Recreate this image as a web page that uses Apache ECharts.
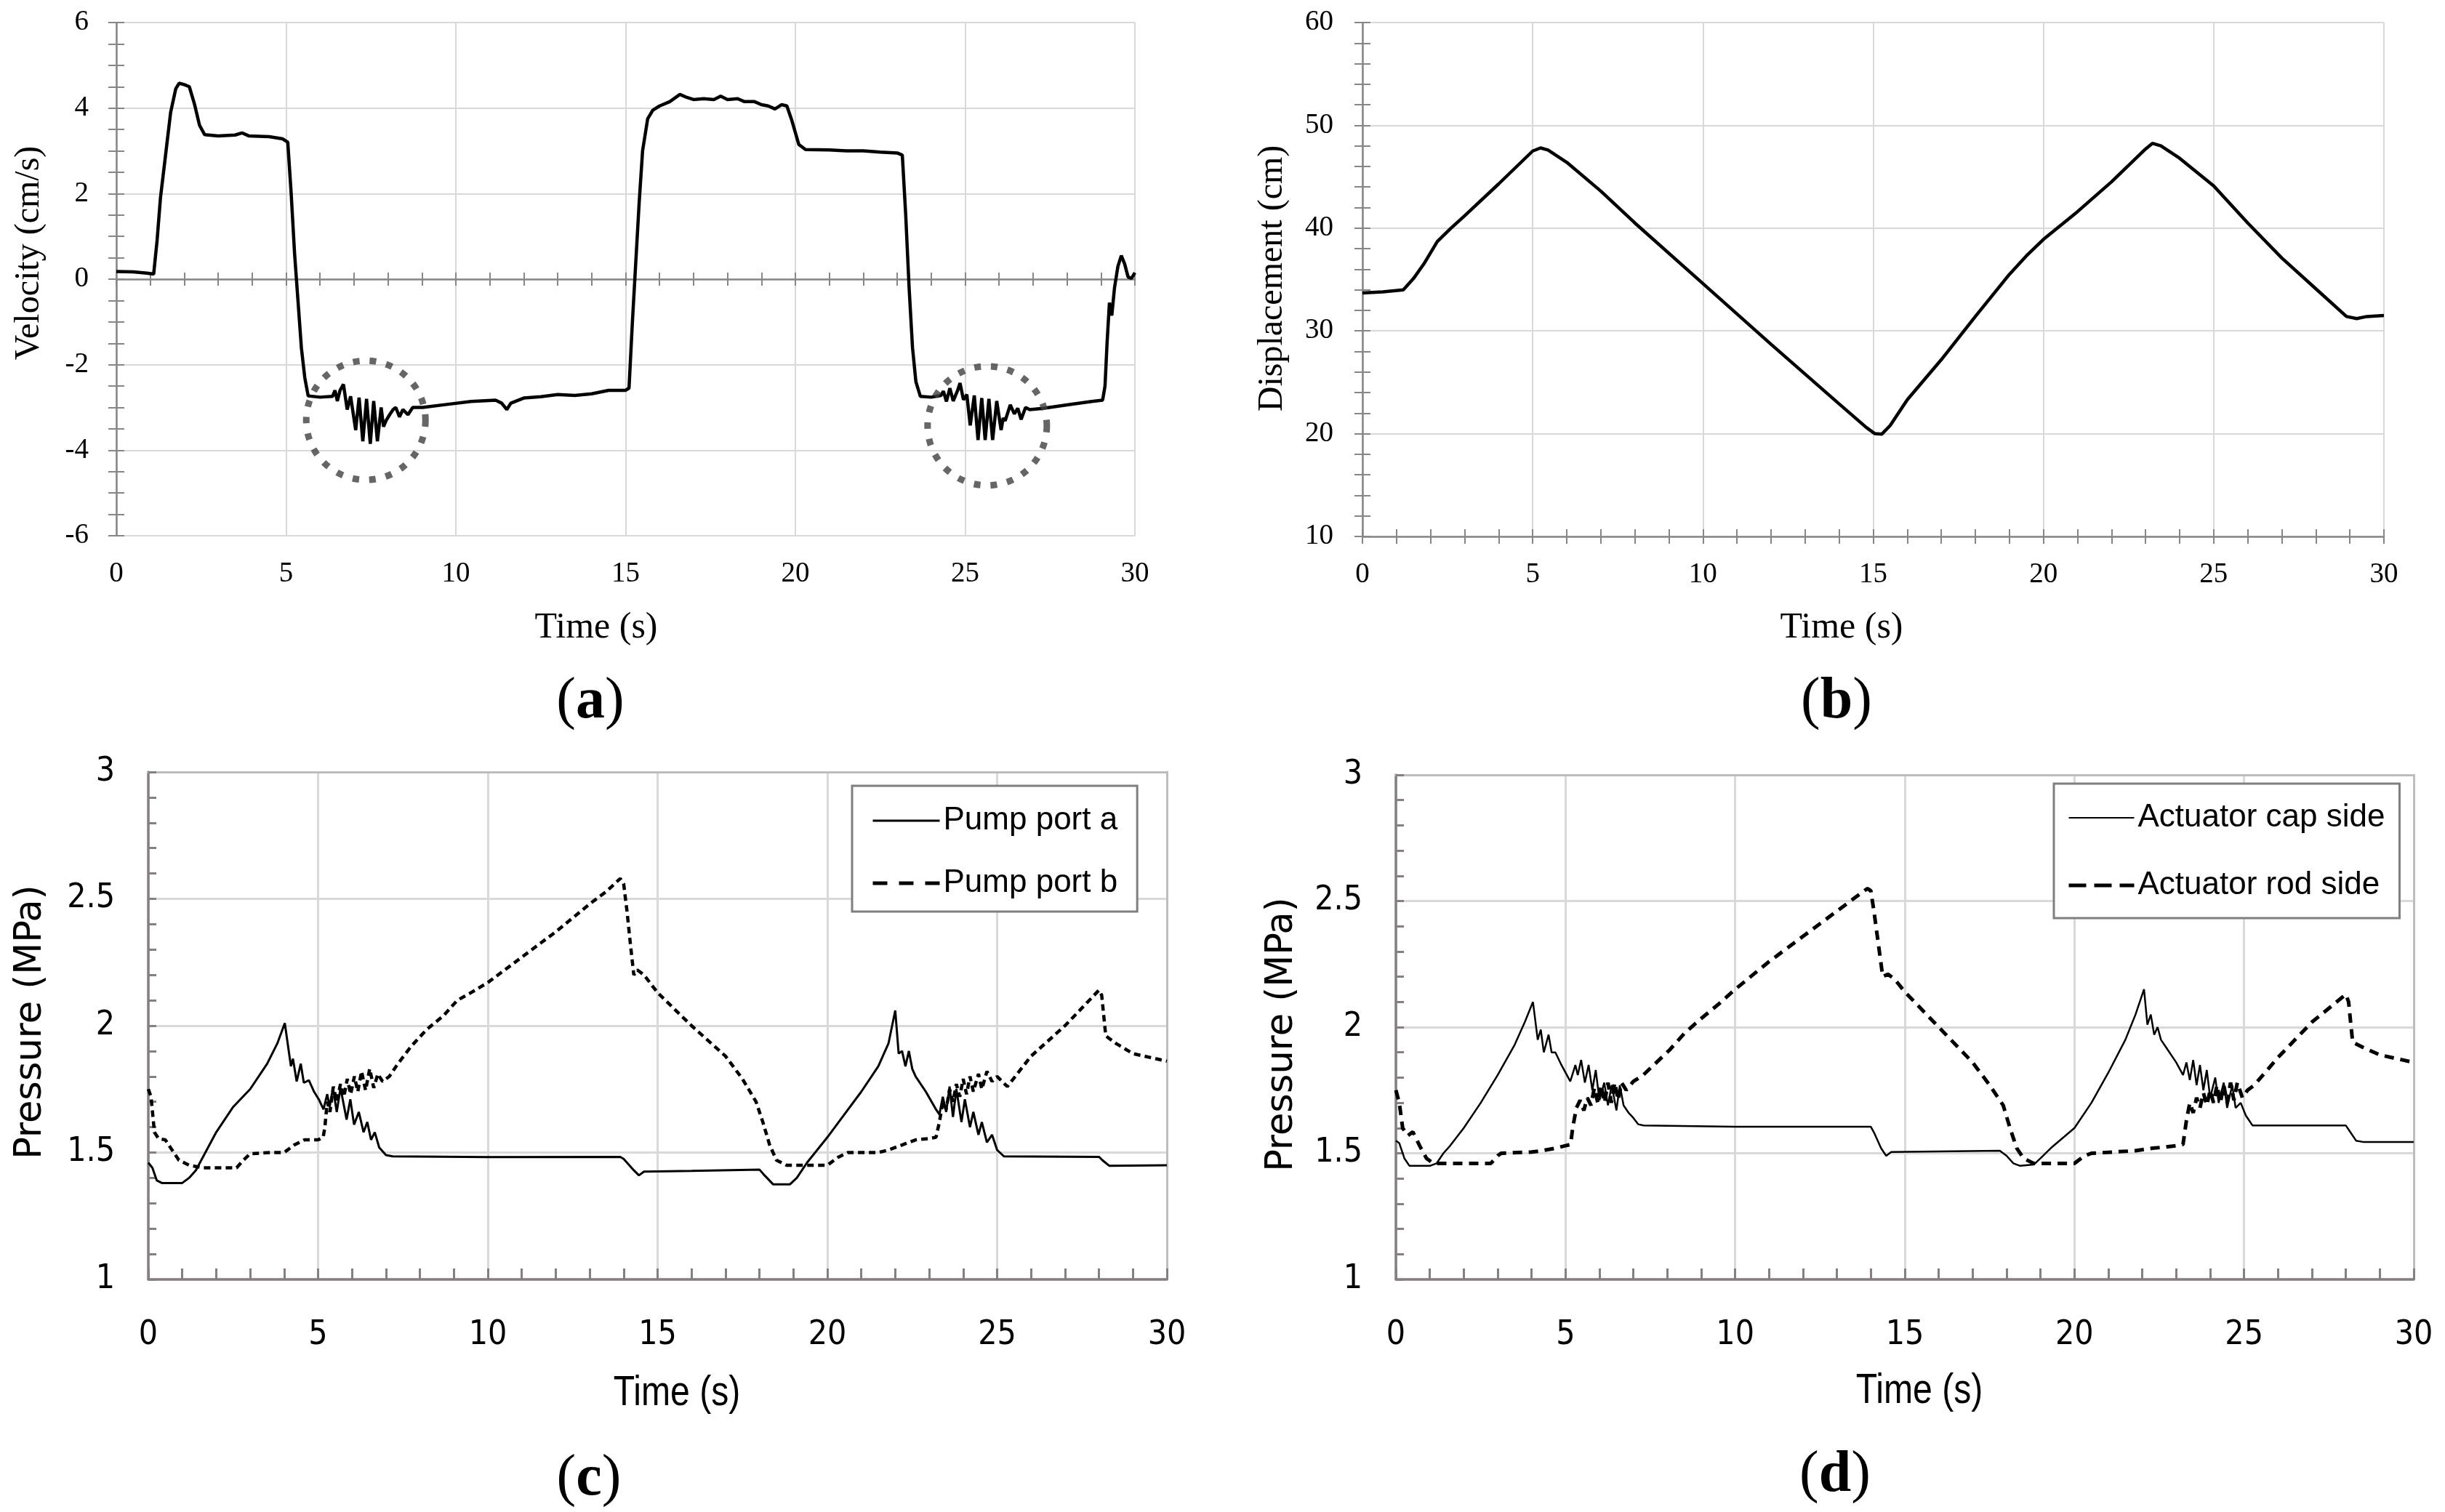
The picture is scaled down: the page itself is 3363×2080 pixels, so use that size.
<!DOCTYPE html>
<html>
<head>
<meta charset="utf-8">
<title>Velocity, displacement and pressure</title>
<script src="https://cdn.jsdelivr.net/npm/echarts@6.0.0/dist/echarts.min.js"></script>
<style>
  html, body { margin: 0; padding: 0; background: #fff; }
  #chart { width: 3363px; height: 2080px; }
</style>
</head>
<body>
<div id="chart"></div>
<script>
// (a) actuator velocity, cm/s
var velT = [0, 0.5, 0.9, 1.1, 1.2, 1.3, 1.45, 1.6, 1.75, 1.85,
  2.0, 2.15, 2.3, 2.45, 2.6, 3.0, 3.5, 3.7, 3.9, 4.5,
  4.9, 5.05, 5.15, 5.25, 5.35, 5.45, 5.55, 5.65, 6.0, 6.37,
  6.44, 6.51, 6.59, 6.69, 6.8, 6.9, 7.05, 7.15, 7.26, 7.37,
  7.48, 7.58, 7.69, 7.8, 7.87, 7.95, 8.05, 8.15, 8.23, 8.34,
  8.44, 8.59, 8.73, 9.02, 9.73, 10.45, 11.17, 11.35, 11.5, 11.62,
  12.0, 12.5, 13.0, 13.5, 14.0, 14.5, 15.0, 15.1, 15.2, 15.3,
  15.4, 15.5, 15.65, 15.8, 16.0, 16.3, 16.6, 16.8, 17.0, 17.3,
  17.6, 17.8, 18.0, 18.3, 18.5, 18.8, 19.0, 19.2, 19.4, 19.6,
  19.75, 19.9, 20.1, 20.3, 21.0, 21.5, 22.0, 22.5, 23.0, 23.15,
  23.25, 23.35, 23.45, 23.55, 23.68, 24.0, 24.29, 24.36, 24.45, 24.55,
  24.65, 24.78, 24.85, 24.95, 25.05, 25.15, 25.27, 25.38, 25.49, 25.59,
  25.7, 25.81, 25.93, 26.06, 26.12, 26.18, 26.33, 26.45, 26.55, 26.65,
  26.78, 26.9, 27.3, 28.0, 28.73, 29.05, 29.12, 29.18, 29.25, 29.32,
  29.4, 29.5, 29.6, 29.7, 29.8, 29.9, 30.0];
var velV = [0.18, 0.17, 0.14, 0.12, 0.9, 1.9, 2.9, 3.9, 4.45, 4.58,
  4.55, 4.5, 4.1, 3.6, 3.38, 3.35, 3.37, 3.42, 3.35, 3.33,
  3.28, 3.2, 2.0, 0.6, -0.5, -1.6, -2.3, -2.73, -2.76, -2.74,
  -2.6, -2.85, -2.6, -2.46, -3.05, -2.74, -3.53, -2.77, -3.79, -2.8,
  -3.85, -2.85, -3.79, -3.0, -3.45, -3.3, -3.17, -3.05, -3.0, -3.22,
  -3.05, -3.17, -3.0, -3.0, -2.93, -2.86, -2.83, -2.9, -3.05, -2.9,
  -2.78, -2.75, -2.7, -2.72, -2.68, -2.6, -2.6, -2.55, -1.0, 0.4,
  1.8, 3.0, 3.75, 3.95, 4.05, 4.15, 4.32, 4.25, 4.2, 4.22,
  4.2, 4.28, 4.2, 4.22, 4.15, 4.15, 4.08, 4.05, 3.98, 4.08,
  4.05, 3.7, 3.15, 3.03, 3.02, 3.0, 3.0, 2.97, 2.95, 2.9,
  1.5, -0.2, -1.6, -2.4, -2.74, -2.76, -2.72, -2.62, -2.86, -2.55,
  -2.85, -2.6, -2.43, -2.82, -2.7, -3.42, -2.72, -3.76, -2.78, -3.76,
  -2.8, -3.76, -2.85, -3.53, -3.25, -3.31, -2.94, -3.15, -3.02, -3.28,
  -3.0, -3.05, -3.02, -2.94, -2.86, -2.83, -2.5, -1.5, -0.55, -0.85,
  -0.2, 0.3, 0.55, 0.35, 0.05, 0.02, 0.15];

// dotted circles marking the oscillations in (a)
var circleT = [7.35, 25.65];
var circleV = [-3.3, -3.43];

// (b) actuator displacement, cm
var dispT = [0, 0.6, 1.2, 1.5, 1.8, 2.2, 2.6, 3.0, 4.0, 5.0,
  5.23, 5.45, 6.0, 7.0, 8.0, 10.0, 12.0, 14.0, 14.8, 15.05,
  15.25, 15.5, 16.0, 17.0, 18.0, 19.0, 19.5, 20.0, 21.0, 22.0,
  23.0, 23.2, 23.45, 24.0, 25.0, 26.0, 27.0, 28.0, 28.9, 29.2,
  29.5, 30.0];
var dispV = [33.7, 33.8, 34.0, 35.1, 36.5, 38.7, 40.0, 41.2, 44.3, 47.5,
  47.8, 47.6, 46.4, 43.6, 40.5, 34.6, 28.7, 22.9, 20.6, 20.0,
  19.95, 20.8, 23.3, 27.2, 31.4, 35.5, 37.3, 38.9, 41.6, 44.5,
  47.7, 48.25, 48.0, 46.8, 44.1, 40.5, 37.1, 34.1, 31.4, 31.2,
  31.4, 31.5];

// (c) pump port pressures, MPa
var portAT = [0, 0.12, 0.25, 0.4, 1.0, 1.2, 1.4, 2.0, 2.5, 3.0,
  3.5, 3.8, 4.02, 4.2, 4.26, 4.37, 4.49, 4.58, 4.73, 4.88,
  5.02, 5.16, 5.27, 5.34, 5.44, 5.55, 5.66, 5.84, 5.95, 6.06,
  6.2, 6.34, 6.45, 6.56, 6.67, 6.8, 7.0, 7.2, 10.0, 13.9,
  14.0, 14.3, 14.45, 14.6, 16.0, 18.0, 18.15, 18.4, 18.9, 19.1,
  19.4, 20.0, 20.5, 21.0, 21.5, 21.8, 22.0, 22.1, 22.2, 22.3,
  22.4, 22.5, 22.6, 22.9, 23.2, 23.3, 23.4, 23.5, 23.6, 23.7,
  23.8, 23.95, 24.05, 24.2, 24.3, 24.45, 24.55, 24.7, 24.85, 25.0,
  25.2, 28.0, 28.1, 28.3, 30.0];
var portAV = [1.46, 1.44, 1.39, 1.38, 1.38, 1.40, 1.43, 1.58, 1.68, 1.75,
  1.85, 1.93, 2.01, 1.84, 1.87, 1.78, 1.85, 1.775, 1.785, 1.74,
  1.71, 1.67, 1.73, 1.68, 1.755, 1.66, 1.755, 1.63, 1.71, 1.61,
  1.66, 1.58, 1.62, 1.55, 1.58, 1.52, 1.49, 1.485, 1.482, 1.483,
  1.475, 1.43, 1.41, 1.425, 1.428, 1.433, 1.41, 1.375, 1.375, 1.40,
  1.46, 1.56, 1.65, 1.74, 1.84, 1.93, 2.06, 1.89, 1.9, 1.84,
  1.9, 1.83, 1.8, 1.74, 1.67, 1.65, 1.72, 1.66, 1.76, 1.64,
  1.75, 1.62, 1.71, 1.6, 1.66, 1.57, 1.62, 1.54, 1.57, 1.51,
  1.485, 1.483, 1.47, 1.448, 1.45];
var portBT = [0, 0.08, 0.18, 0.3, 0.5, 0.7, 0.9, 1.2, 1.6, 2.6,
  2.8, 3.0, 3.6, 4.0, 4.3, 4.6, 5.0, 5.15, 5.2, 5.27,
  5.35, 5.45, 5.55, 5.66, 5.76, 5.86, 5.96, 6.07, 6.17, 6.28,
  6.4, 6.52, 6.64, 6.76, 6.9, 7.1, 7.35, 7.75, 8.2, 8.7,
  9.1, 9.5, 10.0, 11.0, 12.0, 13.0, 13.5, 13.9, 14.0, 14.1,
  14.2, 14.3, 14.4, 14.6, 15.0, 16.0, 17.0, 17.5, 17.9, 18.1,
  18.3, 18.5, 18.8, 20.0, 20.3, 20.6, 21.5, 21.8, 22.2, 22.6,
  23.0, 23.2, 23.3, 23.4, 23.5, 23.6, 23.7, 23.8, 23.9, 24.0,
  24.1, 24.2, 24.3, 24.45, 24.55, 24.7, 24.85, 25.0, 25.3, 26.0,
  27.0, 28.0, 28.08, 28.2, 28.5, 29.0, 29.5, 30.0];
var portBV = [1.75, 1.72, 1.58, 1.555, 1.55, 1.51, 1.47, 1.45, 1.44, 1.44,
  1.47, 1.495, 1.5, 1.5, 1.53, 1.55, 1.55, 1.56, 1.6, 1.70,
  1.66, 1.76, 1.70, 1.77, 1.72, 1.79, 1.73, 1.80, 1.74, 1.82,
  1.745, 1.83, 1.755, 1.81, 1.78, 1.80, 1.85, 1.92, 1.985, 2.04,
  2.10, 2.13, 2.17, 2.27, 2.37, 2.48, 2.53, 2.58, 2.56, 2.45,
  2.32, 2.2, 2.22, 2.2, 2.13, 2.0, 1.88, 1.79, 1.70, 1.62,
  1.53, 1.47, 1.45, 1.45, 1.48, 1.5, 1.5, 1.51, 1.53, 1.55,
  1.555, 1.56, 1.62, 1.70, 1.67, 1.75, 1.70, 1.77, 1.72, 1.79,
  1.73, 1.80, 1.74, 1.81, 1.75, 1.82, 1.78, 1.80, 1.76, 1.88,
  2.0, 2.14, 2.12, 1.96, 1.93, 1.89, 1.875, 1.86];

// (d) actuator chamber pressures, MPa
var capT = [0, 0.1, 0.25, 0.4, 1.0, 1.2, 1.4, 1.6, 2.0, 2.5,
  3.0, 3.5, 3.8, 4.04, 4.18, 4.27, 4.36, 4.5, 4.59, 4.7,
  4.86, 5.14, 5.29, 5.36, 5.46, 5.57, 5.68, 5.79, 5.89, 6.0,
  6.14, 6.25, 6.36, 6.5, 6.6, 6.71, 6.86, 7.0, 7.14, 7.3,
  10.0, 14.0, 14.1, 14.3, 14.45, 14.6, 17.8, 18.0, 18.2, 18.4,
  18.8, 19.0, 19.3, 20.0, 20.5, 21.0, 21.5, 21.8, 22.05, 22.15,
  22.25, 22.35, 22.45, 22.55, 22.7, 23.0, 23.2, 23.3, 23.4, 23.5,
  23.6, 23.7, 23.8, 23.9, 24.0, 24.15, 24.25, 24.4, 24.5, 24.65,
  24.75, 24.9, 25.05, 25.25, 28.0, 28.1, 28.3, 28.5, 30.0];
var capV = [1.55, 1.54, 1.48, 1.45, 1.45, 1.46, 1.5, 1.53, 1.6, 1.7,
  1.81, 1.93, 2.02, 2.10, 1.95, 1.99, 1.90, 1.97, 1.9, 1.9,
  1.855, 1.785, 1.85, 1.81, 1.87, 1.78, 1.85, 1.75, 1.83, 1.71,
  1.78, 1.69, 1.77, 1.67, 1.77, 1.69, 1.66, 1.64, 1.615, 1.61,
  1.605, 1.605, 1.58, 1.52, 1.49, 1.505, 1.51, 1.49, 1.46, 1.45,
  1.455, 1.48, 1.52, 1.6, 1.70, 1.82, 1.95, 2.05, 2.15, 2.01,
  2.05, 1.97, 2.0, 1.95, 1.92, 1.86, 1.81, 1.86, 1.79, 1.87,
  1.77, 1.85, 1.75, 1.83, 1.72, 1.80, 1.7, 1.78, 1.68, 1.77,
  1.68, 1.7, 1.65, 1.61, 1.61, 1.59, 1.55, 1.545, 1.545];
var rodT = [0, 0.1, 0.2, 0.35, 0.5, 0.7, 0.9, 1.1, 2.8, 3.0,
  3.1, 4.0, 4.3, 4.7, 5.0, 5.15, 5.21, 5.32, 5.43, 5.54,
  5.64, 5.75, 5.85, 5.95, 6.05, 6.15, 6.25, 6.35, 6.45, 6.55,
  6.65, 6.79, 7.0, 7.29, 7.64, 8.07, 8.5, 8.96, 9.5, 10.0,
  11.0, 12.0, 13.0, 13.9, 14.0, 14.1, 14.2, 14.35, 14.5, 14.7,
  15.0, 16.0, 17.0, 17.5, 17.9, 18.1, 18.3, 18.5, 18.8, 20.0,
  20.3, 20.5, 21.8, 22.3, 22.7, 23.0, 23.2, 23.3, 23.4, 23.5,
  23.6, 23.7, 23.8, 23.9, 24.0, 24.1, 24.2, 24.3, 24.4, 24.5,
  24.6, 24.7, 24.8, 24.95, 25.1, 25.3, 26.0, 27.0, 28.0, 28.08,
  28.2, 28.5, 29.0, 29.5, 30.0];
var rodV = [1.75, 1.7, 1.6, 1.57, 1.585, 1.53, 1.48, 1.46, 1.46, 1.49,
  1.5, 1.505, 1.51, 1.52, 1.53, 1.535, 1.6, 1.68, 1.71, 1.67,
  1.72, 1.69, 1.76, 1.7, 1.77, 1.7, 1.78, 1.7, 1.78, 1.71,
  1.78, 1.75, 1.785, 1.81, 1.855, 1.91, 1.975, 2.03, 2.09, 2.15,
  2.26, 2.36, 2.46, 2.55, 2.54, 2.45, 2.35, 2.2, 2.21, 2.19,
  2.14, 2.0, 1.86, 1.77, 1.69, 1.6, 1.52, 1.48, 1.46, 1.46,
  1.49, 1.5, 1.51, 1.52, 1.525, 1.53, 1.535, 1.63, 1.7, 1.66,
  1.72, 1.68, 1.74, 1.69, 1.75, 1.7, 1.77, 1.7, 1.77, 1.7,
  1.78, 1.71, 1.78, 1.72, 1.75, 1.77, 1.88, 2.02, 2.13, 2.1,
  1.94, 1.92, 1.89, 1.875, 1.86];

var SERIF = '"Liberation Serif", "Times New Roman", serif';
var NARROW = '"Liberation Sans Narrow", "Arial Narrow", "DejaVu Sans Condensed", sans-serif';
var SANS = '"Liberation Sans", Arial, sans-serif';
var WIDE = '"DejaVu Sans", Verdana, sans-serif';

var AX_TOP = '#868686';    // axis grey, top row
var AX_BOT = '#857f7f';    // axis grey, bottom row
var GRIDC = '#d9d9d9';

function zip(t, v) {
  return t.map(function (x, i) { return [x, v[i]]; });
}

// bare value axis, everything off; callers switch parts on
function axis(g, min, max, step, extra) {
  return Object.assign({
    gridIndex: g, type: 'value', min: min, max: max, interval: step,
    axisLine: { show: false, onZero: false },
    axisTick: { show: false },
    minorTick: { show: false },
    axisLabel: { show: false },
    splitLine: { show: false }
  }, extra);
}

function line(color, width, onZero) {
  return { show: true, onZero: !!onZero, lineStyle: { color: color, width: width } };
}
function ticks(color, len, inside, width) {
  return { show: true, inside: inside, length: len, lineStyle: { color: color, width: width } };
}
function minor(color, len, n, width) {
  return { show: true, splitNumber: n, length: len, lineStyle: { color: color, width: width } };
}
function labels(font, size, margin) {
  return { show: true, margin: margin, fontFamily: font, fontSize: size, color: '#000' };
}
function gridLines(width) {
  return { show: true, lineStyle: { color: GRIDC, width: width } };
}

var xAxes = [
  // (a) labels along the bottom, vertical grid lines
  axis(0, 0, 30, 5, { position: 'bottom', axisLabel: labels(SERIF, 39, 33), splitLine: gridLines(2) }),
  // (a) the zero line, ticks crossing it
  axis(0, 0, 30, 5, { position: 'bottom', axisLine: line(AX_TOP, 2.5, true),
    axisTick: ticks(AX_TOP, 9, false, 2), minorTick: minor(AX_TOP, 9, 5, 2) }),
  axis(0, 0, 30, 5, { position: 'bottom', axisLine: { show: false, onZero: true },
    axisTick: ticks(AX_TOP, 9, true, 2), minorTick: minor(AX_TOP, 9, 5, 2) }),
  // (b)
  axis(1, 0, 30, 5, { position: 'bottom', axisLine: line(AX_TOP, 2.5),
    axisTick: ticks(AX_TOP, 10, false, 2), minorTick: minor(AX_TOP, 10, 5, 2),
    axisLabel: labels(SERIF, 39, 33), splitLine: gridLines(2) }),
  axis(1, 0, 30, 5, { position: 'bottom',
    axisTick: ticks(AX_TOP, 10, true, 2), minorTick: minor(AX_TOP, 10, 5, 2) }),
  // (c)
  axis(2, 0, 30, 5, { position: 'bottom', axisLine: line(AX_BOT, 3.5),
    axisTick: ticks(AX_BOT, 15, true, 3), minorTick: minor(AX_BOT, 15, 5, 3),
    axisLabel: labels(NARROW, 46, 54), splitLine: gridLines(3) }),
  axis(2, 0, 30, 5, { position: 'top', axisLine: line('#bdbdbd', 3) }),
  // (d)
  axis(3, 0, 30, 5, { position: 'bottom', axisLine: line(AX_BOT, 3.5),
    axisTick: ticks(AX_BOT, 15, true, 3), minorTick: minor(AX_BOT, 15, 5, 3),
    axisLabel: labels(NARROW, 46, 54), splitLine: gridLines(3) }),
  axis(3, 0, 30, 5, { position: 'top', axisLine: line('#bdbdbd', 3) })
];

var yAxes = [
  // (a)
  axis(0, -6, 6, 2, { position: 'left', axisLine: line(AX_TOP, 2.5),
    axisTick: ticks(AX_TOP, 11, false, 2), minorTick: minor(AX_TOP, 11, 4, 2),
    axisLabel: labels(SERIF, 39, 38), splitLine: gridLines(2) }),
  axis(0, -6, 6, 2, { position: 'left',
    axisTick: ticks(AX_TOP, 11, true, 2), minorTick: minor(AX_TOP, 11, 4, 2) }),
  // (b)
  axis(1, 10, 60, 10, { position: 'left', axisLine: line(AX_TOP, 2.5),
    axisTick: ticks(AX_TOP, 11, false, 2), minorTick: minor(AX_TOP, 11, 5, 2),
    axisLabel: labels(SERIF, 39, 40), splitLine: gridLines(2) }),
  axis(1, 10, 60, 10, { position: 'left',
    axisTick: ticks(AX_TOP, 11, true, 2), minorTick: minor(AX_TOP, 11, 5, 2) }),
  // (c)
  axis(2, 1, 3, 0.5, { position: 'left', axisLine: line(AX_BOT, 3.5),
    axisTick: ticks(AX_BOT, 11, true, 3), minorTick: minor(AX_BOT, 11, 5, 3),
    axisLabel: labels(NARROW, 46, 46), splitLine: gridLines(3) }),
  axis(2, 1, 3, 0.5, { position: 'right', axisLine: line('#bdbdbd', 3) }),
  // (d)
  axis(3, 1, 3, 0.5, { position: 'left', axisLine: line(AX_BOT, 3.5),
    axisTick: ticks(AX_BOT, 11, true, 3), minorTick: minor(AX_BOT, 11, 5, 3),
    axisLabel: labels(NARROW, 46, 46), splitLine: gridLines(3) }),
  axis(3, 1, 3, 0.5, { position: 'right', axisLine: line('#bdbdbd', 3) })
];

function curve(name, xi, yi, t, v, width, dash) {
  return {
    type: 'line', name: name, xAxisIndex: xi, yAxisIndex: yi,
    data: zip(t, v), symbol: 'none', showSymbol: false, color: '#000',
    lineStyle: { color: '#000', width: width, type: dash || 'solid' },
    emphasis: { disabled: true }, z: 3
  };
}

var legendText = { fontFamily: SANS, fontSize: 44, color: '#000', lineHeight: 46 };
// line series legend icons carry a symbol; keep only the line
var noSymbol = { color: 'rgba(0,0,0,0)', borderWidth: 0, opacity: 0 };

function label(text, x, y, font, size, rotate, sx) {
  return {
    type: 'text', x: x, y: y, rotation: rotate ? Math.PI / 2 : 0,
    scaleX: sx || 1, silent: true,
    style: { text: text, fontFamily: font, fontSize: size, fill: '#000',
      textAlign: 'center', textVerticalAlign: 'middle' }
  };
}
function panelTag(letter, x, y) {
  return {
    type: 'text', x: x, y: y, silent: true,
    style: {
      text: '{p|(}{b|' + letter + '}{p|)}',
      textAlign: 'center', textVerticalAlign: 'middle',
      rich: {
        p: { fontFamily: SERIF, fontSize: 80, fill: '#000' },
        b: { fontFamily: SERIF, fontSize: 80, fontWeight: 'bold', fill: '#000' }
      }
    }
  };
}

var chart = echarts.init(document.getElementById('chart'));
chart.setOption({
  animation: false,
  backgroundColor: '#fff',
  grid: [
    { left: 160, top: 31, width: 1401, height: 706, outerBoundsMode: 'none' },
    { left: 1874, top: 31, width: 1405, height: 707, outerBoundsMode: 'none' },
    { left: 204, top: 1062, width: 1401, height: 698, outerBoundsMode: 'none' },
    { left: 1920, top: 1066, width: 1400, height: 694, outerBoundsMode: 'none' }
  ],
  xAxis: xAxes,
  yAxis: yAxes,
  legend: [
    {
      data: [
        { name: 'Pump port a', lineStyle: { width: 3, color: '#000' } },
        { name: 'Pump port b', lineStyle: { width: 5, color: '#000', type: [20, 16] } }
      ],
      orient: 'vertical', left: 1172, top: 1081,
      padding: [25, 27, 16, 26], itemGap: 40, itemWidth: 92, itemHeight: 14,
      borderColor: '#7f7f7f', borderWidth: 3, backgroundColor: '#fff',
      selectedMode: false, textStyle: legendText, itemStyle: noSymbol
    },
    {
      data: [
        { name: 'Actuator cap side', lineStyle: { width: 2, color: '#000' } },
        { name: 'Actuator rod side', lineStyle: { width: 5, color: '#000', type: [24, 11] } }
      ],
      orient: 'vertical', left: 2825, top: 1078,
      padding: [24, 20, 22, 18], itemGap: 47, itemWidth: 90, itemHeight: 14,
      borderColor: '#7f7f7f', borderWidth: 3, backgroundColor: '#fff',
      selectedMode: false, textStyle: legendText, itemStyle: noSymbol
    }
  ],
  series: [
    curve('Velocity', 0, 0, velT, velV, 4.5),
    {
      type: 'scatter', name: 'Oscillation', xAxisIndex: 0, yAxisIndex: 0,
      data: zip(circleT, circleV), symbol: 'circle', symbolSize: 164, silent: true, z: 4,
      itemStyle: { color: 'rgba(0,0,0,0)', borderColor: '#404040', borderWidth: 9, borderType: [9, 14] }
    },
    curve('Displacement', 3, 2, dispT, dispV, 4.5),
    curve('Pump port a', 5, 4, portAT, portAV, 3),
    curve('Pump port b', 5, 4, portBT, portBV, 4.5, [9, 6]),
    curve('Actuator cap side', 7, 6, capT, capV, 2.5),
    curve('Actuator rod side', 7, 6, rodT, rodV, 5, [13, 9])
  ],
  graphic: [
    label('Velocity (cm/s)', 40, 348, SERIF, 48, true),
    label('Time (s)', 820, 864, SERIF, 50),
    panelTag('a', 812, 966),
    label('Displacement (cm)', 1750, 383, SERIF, 48, true),
    label('Time (s)', 2533, 864, SERIF, 50),
    panelTag('b', 2526, 966),
    label('Pressure (MPa)', 43, 1406, WIDE, 51, true),
    label('Time (s)', 931, 1917, SANS, 58, false, 0.83),
    panelTag('c', 810, 2035),
    label('Pressure (MPa)', 1764, 1423, WIDE, 51, true),
    label('Time (s)', 2640, 1914, SANS, 58, false, 0.83),
    panelTag('d', 2524, 2030)
  ]
});
</script>
</body>
</html>
